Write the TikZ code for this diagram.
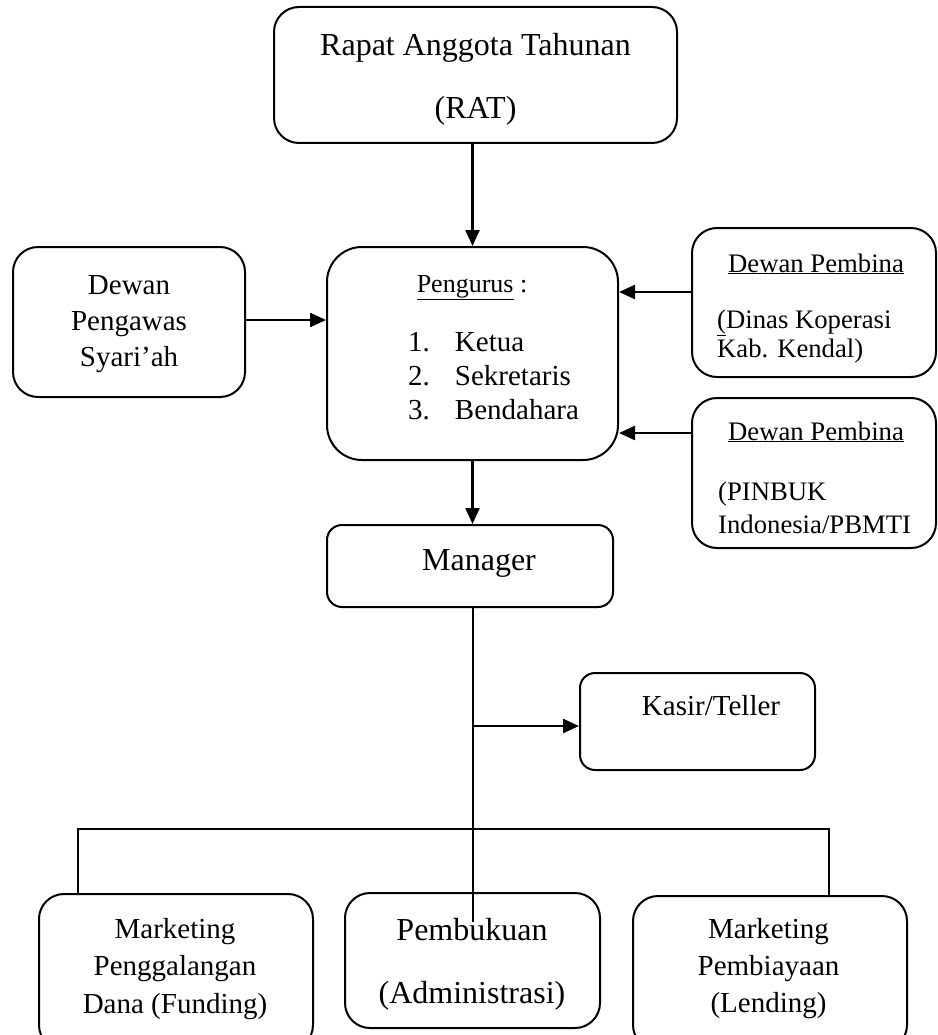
\documentclass[tikz,border=0pt]{standalone}
\usepackage{fontspec}
\setmainfont{Liberation Serif}
\usetikzlibrary{arrows.meta}
\begin{document}
\begin{tikzpicture}[x=1pt,y=-1pt,
  box/.style={draw, line width=2pt, rectangle, inner sep=0pt, rounded corners=#1},
  box/.default=25pt,
  txt/.style={inner sep=0pt, align=center},
  arr/.style={line width=2.4pt, -{Triangle[length=16pt,width=14pt]}},
  tree/.style={line width=1.8pt}]
\path[use as bounding box] (0,0) rectangle (937,1035);

% boxes
\node[box, minimum width=403pt, minimum height=136pt] (rat) at (475.5,75) {};
\node[box=35pt, minimum width=291pt, minimum height=213pt] (pengurus) at (472.5,353.5) {};
\node[box, minimum width=232pt, minimum height=150pt] (pengawas) at (129,322) {};
\node[box, minimum width=244pt, minimum height=149pt] (pembina1) at (814,302.5) {};
\node[box, minimum width=244pt, minimum height=150pt] (pembina2) at (814,473) {};
\node[box=15pt, minimum width=286pt, minimum height=82pt] (manager) at (470,566) {};
\node[box=15pt, minimum width=235pt, minimum height=97pt] (kasir) at (697.5,721.5) {};
\node[box, minimum width=274pt, minimum height=156pt] (funding) at (176,972) {};
\node[box, minimum width=255pt, minimum height=135pt] (admin) at (472.5,960.5) {};
\node[box, minimum width=274pt, minimum height=154pt] (lending) at (770,973) {};

% texts
\node[txt, font=\fontsize{32}{63}\selectfont] (ratText) at (475.5,79) {Rapat Anggota Tahunan\\(RAT)};
\node[txt, anchor=base, font=\fontsize{26}{30}\selectfont] (pengurusTitle) at (472,292) {\underline{Pengurus} :};
\node[txt, align=left, anchor=west, font=\fontsize{29}{34}\selectfont] (pengurusList) at (408,376.2)
  {1.\hspace{25pt}Ketua\\2.\hspace{25pt}Sekretaris\\3.\hspace{25pt}Bendahara};
\node[txt, font=\fontsize{29}{36}\selectfont] (pengawasText) at (129,324.3) {Dewan\\Pengawas\\Syari’ah};
\node[txt, anchor=base, font=\fontsize{26.7}{30}\selectfont] (pembina1Title) at (816,272) {\underline{Dewan Pembina}};
\node[txt, align=left, anchor=west, font=\fontsize{26.7}{29}\selectfont] (pembina1Text) at (717,336.1) {\underline{(}Dinas Koperasi\\Kab. Kendal)};
\node[txt, anchor=base, font=\fontsize{26.7}{30}\selectfont] (pembina2Title) at (816,440) {\underline{Dewan Pembina}};
\node[txt, align=left, anchor=west, font=\fontsize{26.7}{33}\selectfont] (pembina2Text) at (718,507.5) {(PINBUK\\Indonesia/PBMTI};
\node[txt, anchor=base, font=\fontsize{32}{38}\selectfont] (managerText) at (479,570) {Manager};
\node[txt, anchor=base, font=\fontsize{29}{34}\selectfont] (kasirText) at (711,715) {Kasir/Teller};
\node[txt, font=\fontsize{29}{37.5}\selectfont] (fundingText) at (175,968.8) {Marketing\\Penggalangan\\Dana (Funding)};
\node[txt, font=\fontsize{32}{63}\selectfont] (adminText) at (472,964) {Pembukuan\\(Administrasi)};
\node[txt, font=\fontsize{29}{37}\selectfont] (lendingText) at (768.5,968.3) {Marketing\\Pembiayaan\\(Lending)};

% connectors
\draw[arr] (rat.south -| pengurus.north) -- (pengurus.north);
\draw[arr] (pengawas.east |- 0,320) -- (pengurus.west |- 0,320);
\draw[arr] (pembina1.west |- 0,292) -- (pengurus.east |- 0,292);
\draw[arr] (pembina2.west |- 0,433) -- (pengurus.east |- 0,433);
\draw[arr] (pengurus.south) -- (manager.north -| pengurus.south);

\coordinate (stemEnd) at (473,922);
\coordinate (kasirJoin) at (473,726);
\coordinate (hl) at (78,829);
\coordinate (hr) at (829,829);
\draw[tree] (manager.south -| stemEnd) -- (stemEnd);
\draw[arr] (kasirJoin) -- (kasirJoin -| kasir.west);
\draw[tree] (funding.north -| hl) -- (hl) -- (hr) -- (lending.north -| hr);
\end{tikzpicture}
\end{document}
